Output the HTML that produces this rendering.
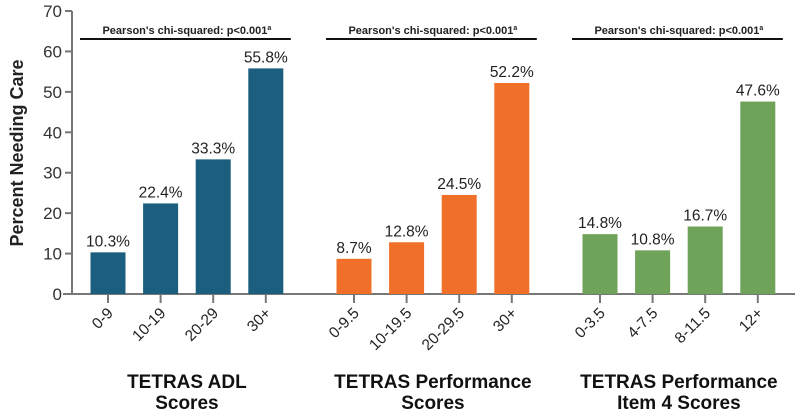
<!DOCTYPE html>
<html><head><meta charset="utf-8"><style>
body{margin:0;background:#fff;width:800px;height:413px;overflow:hidden}
svg{font-family:"Liberation Sans",Arial,sans-serif}
</style></head><body>
<svg id="chart" width="800" height="413"></svg>
<script>
const groups=["TETRAS ADL|Scores","TETRAS Performance|Scores","TETRAS Performance|Item 4 Scores"];
const categories=[["0-9","10-19","20-29","30+"],["0-9.5","10-19.5","20-29.5","30+"],["0-3.5","4-7.5","8-11.5","12+"]];
const values=[[10.3,22.4,33.3,55.8],[8.7,12.8,24.5,52.2],[14.8,10.8,16.7,47.6]];
const yTicks=[0,10,20,30,40,50,60,70];
const colors=["#1b5e7e","#f07029","#6fa35a"];
const NS="http://www.w3.org/2000/svg";
const svg=document.getElementById('chart');
const y0=294,yTop=11,yMax=70;
const y=v=>y0-(v/yMax)*(y0-yTop);
const x=(g,i)=>108+g*246+i*52.6;
function mk(t,a,txt){const e=document.createElementNS(NS,t);for(const k in a)e.setAttribute(k,a[k]);if(txt!==undefined)e.textContent=txt;svg.appendChild(e);return e;}
let e=mk('line',{x1:72,y1:yTop,x2:72,y2:y0,stroke:'#777','stroke-width':2});

e=mk('line',{x1:63,y1:y0,x2:795,y2:y0,stroke:'#777','stroke-width':2});

yTicks.forEach(t=>{
 e=mk('line',{x1:65,y1:y(t),x2:72,y2:y(t),stroke:'#777','stroke-width':2});
 
 e=mk('text',{x:62,y:y(t)+6,'text-anchor':'end','font-size':17,fill:'#333'},t);
 
});
e=mk('text',{x:0,y:0,transform:'translate(23,153) rotate(-90)','text-anchor':'middle','font-size':18,'font-weight':'bold',fill:'#222'},'Percent Needing Care');

groups.forEach((gname,g)=>{
 categories[g].forEach((c,i)=>{
  const cx=x(g,i),v=values[g][i];
  e=mk('rect',{x:cx-17.5,y:y(v),width:35,height:y0-y(v),fill:colors[g]});
  
  e=mk('text',{x:cx,y:y(v)-6,'text-anchor':'middle','font-size':15.5,fill:'#222'},v.toFixed(1)+'%');
  
  e=mk('line',{x1:cx,y1:y0,x2:cx,y2:y0+9,stroke:'#777','stroke-width':2});
  
  e=mk('text',{x:0,y:0,transform:`translate(${cx+6},${y0+20}) rotate(-45)`,'text-anchor':'end','font-size':15.5,fill:'#222'},c);
  
 });
 const lx1=x(g,0)-28,lx2=x(g,3)+25,mid=(x(g,0)+x(g,3))/2;
 e=mk('line',{x1:lx1,y1:39,x2:lx2,y2:39,stroke:'#111','stroke-width':2});
 
 e=mk('text',{x:mid,y:34,'text-anchor':'middle','font-size':11,'font-weight':'bold',fill:'#222'},"Pearson's chi-squared: p<0.001");
 
 const sup=document.createElementNS(NS,'tspan');sup.setAttribute('font-size','7');sup.setAttribute('dy','-4');sup.textContent='a';e.appendChild(sup);
 const parts=gname.split('|');
 e=mk('text',{x:mid,y:388,'text-anchor':'middle','font-size':19,'font-weight':'bold',fill:'#111'},parts[0]);
 
 e=mk('text',{x:mid,y:409,'text-anchor':'middle','font-size':19,'font-weight':'bold',fill:'#111'},parts[1]);
 
});
</script>
</body></html>
